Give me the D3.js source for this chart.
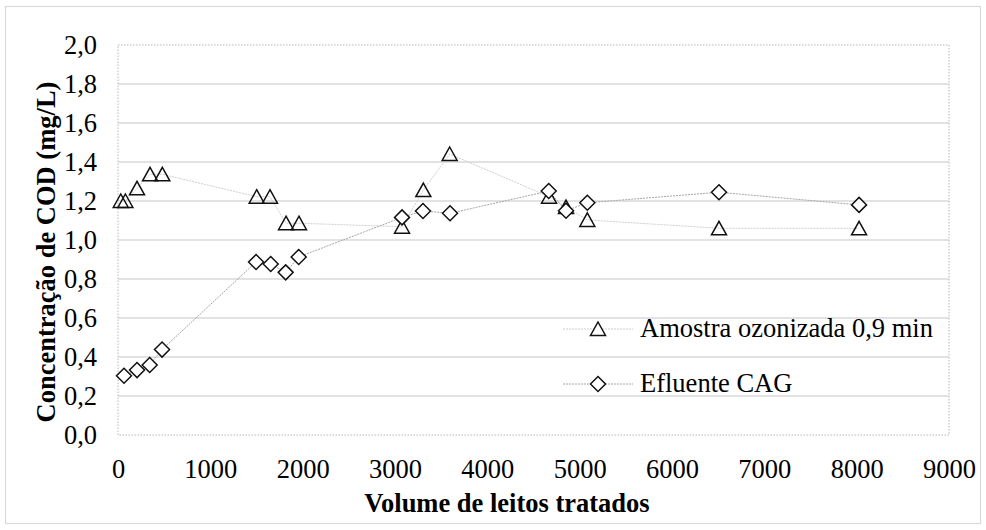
<!DOCTYPE html>
<html>
<head>
<meta charset="utf-8">
<script src="https://cdn.jsdelivr.net/npm/d3@7"></script>
<style>
  html, body { margin: 0; padding: 0; background: #fff; }
</style>
</head>
<body>
<div id="chart"></div>
<script>
// values
const ozoneVolume = [30, 80, 206, 347, 480, 1502, 1646, 1820, 1960, 3076, 3307, 3592, 4668, 4852, 5083, 6509, 8026];
const ozoneCod    = [1.20, 1.20, 1.265, 1.337, 1.337, 1.222, 1.222, 1.086, 1.086, 1.068, 1.256, 1.441, 1.222, 1.169, 1.103, 1.06, 1.06];

const cagVolume = [65, 206, 343, 477, 1495, 1654, 1816, 1957, 3076, 3303, 3596, 4665, 4852, 5083, 6509, 8026];
const cagCod    = [0.304, 0.333, 0.359, 0.438, 0.887, 0.877, 0.834, 0.913, 1.116, 1.149, 1.137, 1.251, 1.150, 1.191, 1.245, 1.18];

const seriesNames = ["Amostra ozonizada 0,9 min", "Efluente CAG"];
const xTicks = d3.range(0, 9001, 1000);
const yTicks = d3.range(0, 2.01, 0.2);

const serif = '"Liberation Serif", "Times New Roman", Tinos, serif';

const width = 986, height = 530;
const margin = { top: 45, right: 37, bottom: 95, left: 118 };
const innerW = width - margin.left - margin.right;
const innerH = height - margin.top - margin.bottom;

const svg = d3.select("#chart").append("svg")
  .attr("width", width)
  .attr("height", height);

// outer chart border
svg.append("rect")
  .attr("x", 5.5).attr("y", 6.5)
  .attr("width", width - 11).attr("height", height - 13)
  .attr("fill", "none")
  .attr("stroke", "#d9d9d9")
  .attr("stroke-width", 1.2);

const g = svg.append("g")
  .attr("transform", `translate(${margin.left},${margin.top})`);

const x = d3.scaleLinear().domain([0, 9000]).range([0, innerW]);
const y = d3.scaleLinear().domain([0, 2]).range([innerH, 0]);

// gridlines
g.append("g")
  .selectAll("line")
  .data(yTicks.slice(1, -1))
  .join("line")
  .attr("x1", 0).attr("x2", innerW)
  .attr("y1", d => y(d)).attr("y2", d => y(d))
  .attr("stroke", "#d9d9d9")
  .attr("stroke-width", 1.5);

// plot area border (dotted)
g.append("rect")
  .attr("x", 0).attr("y", 0)
  .attr("width", innerW).attr("height", innerH)
  .attr("fill", "none")
  .attr("stroke", "#d0d0d0")
  .attr("stroke-width", 1.5)
  .attr("stroke-dasharray", "1.5,1.5");

// axes (labels only, Excel style)
const xAxis = g.append("g")
  .attr("transform", `translate(0,${innerH})`)
  .call(d3.axisBottom(x).tickValues(xTicks).tickSize(0).tickPadding(0).tickFormat(d3.format("d")));
xAxis.select(".domain").remove();
xAxis.selectAll("text")
  .attr("y", 43)
  .attr("dy", null)
  .style("font-family", serif)
  .style("font-size", "26.5px")
  .attr("fill", "#000");

const commaFmt = d => d3.format(".1f")(d).replace(".", ",");
const yAxis = g.append("g")
  .call(d3.axisLeft(y).tickValues(yTicks).tickSize(0).tickPadding(0).tickFormat(commaFmt));
yAxis.select(".domain").remove();
yAxis.selectAll("text")
  .attr("x", -21)
  .attr("dy", "0.33em")
  .style("font-family", serif)
  .style("font-size", "26.5px")
  .attr("fill", "#000");

// axis titles
svg.append("text")
  .attr("x", 507).attr("y", 512)
  .attr("text-anchor", "middle")
  .style("font-family", serif)
  .style("font-weight", "bold")
  .style("font-size", "26.5px")
  .text("Volume de leitos tratados");

svg.append("text")
  .attr("transform", "translate(55,252) rotate(-90)")
  .attr("text-anchor", "middle")
  .style("font-family", serif)
  .style("font-weight", "bold")
  .style("font-size", "26.5px")
  .text("Concentração de COD (mg/L)");

// series
const ozoneData = ozoneVolume.map((v, i) => ({ v, c: ozoneCod[i] }));
const cagData = cagVolume.map((v, i) => ({ v, c: cagCod[i] }));

const line = d3.line().x(d => x(d.v)).y(d => y(d.c));

const trianglePath = "M0,-7L7.5,6.5L-7.5,6.5Z";
const diamondPath = "M0,-7.5L7.5,0L0,7.5L-7.5,0Z";

g.append("path")
  .datum(ozoneData)
  .attr("fill", "none")
  .attr("stroke", "#cfcfcf")
  .attr("stroke-width", 1)
  .attr("stroke-dasharray", "2,1")
  .attr("d", line);

g.append("path")
  .datum(cagData)
  .attr("fill", "none")
  .attr("stroke", "#a6a6a6")
  .attr("stroke-width", 1)
  .attr("stroke-dasharray", "2,1")
  .attr("d", line);

g.append("g")
  .selectAll("path")
  .data(ozoneData)
  .join("path")
  .attr("transform", d => `translate(${x(d.v)},${y(d.c)})`)
  .attr("d", trianglePath)
  .attr("fill", "none")
  .attr("stroke", "#111")
  .attr("stroke-width", 1.5);

g.append("g")
  .selectAll("path")
  .data(cagData)
  .join("path")
  .attr("transform", d => `translate(${x(d.v)},${y(d.c)})`)
  .attr("d", diamondPath)
  .attr("fill", "#fff")
  .attr("stroke", "#111")
  .attr("stroke-width", 1.5);

// legend
const legend = svg.append("g");
const legendItems = [
  { name: seriesNames[0], shape: trianglePath, color: "#cfcfcf", y: 329 },
  { name: seriesNames[1], shape: diamondPath, color: "#a6a6a6", y: 384 }
];
legendItems.forEach(item => {
  legend.append("line")
    .attr("x1", 563).attr("x2", 633)
    .attr("y1", item.y).attr("y2", item.y)
    .attr("stroke", item.color)
    .attr("stroke-width", 1)
    .attr("stroke-dasharray", "2,1");
  legend.append("path")
    .attr("transform", `translate(598,${item.y})`)
    .attr("d", item.shape)
    .attr("fill", "#fff")
    .attr("stroke", "#111")
    .attr("stroke-width", 1.5);
  legend.append("text")
    .attr("x", 640).attr("y", item.y + 8)
    .style("font-family", serif)
    .style("font-size", "26.5px")
    .text(item.name);
});
</script>
</body>
</html>
